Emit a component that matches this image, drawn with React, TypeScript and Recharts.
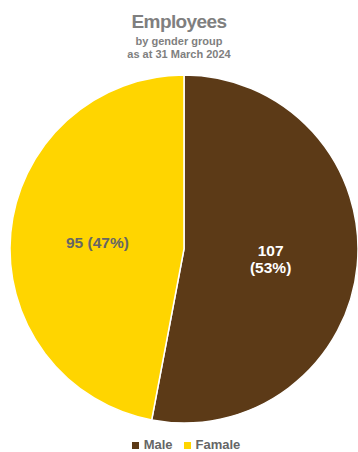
import React from "react";
import { PieChart, Pie, Cell, Legend } from "recharts";

const categories = ["Male", "Famale"];
const values = [107, 95];
const colors = ["#5C3A17", "#FFD500"];

const data = categories.map((name, i) => ({ name, value: values[i] }));
const total = values.reduce((a, b) => a + b, 0);
const RAD = Math.PI / 180;

const renderLabel = (props: any) => {
  const { cx, cy, midAngle, outerRadius, value, index } = props;
  const r = outerRadius * 0.5;
  const x = cx + r * Math.cos(-midAngle * RAD);
  const y = cy + r * Math.sin(-midAngle * RAD);
  const pct = Math.round((value / total) * 100);
  const fill = index === 0 ? "#FFFFFF" : "#666666";
  const style = { fontFamily: "'Liberation Sans', Arial, sans-serif", fontWeight: 700, fontSize: 15.5 };
  if (index === 0) {
    return (
      <text x={x} y={y} textAnchor="middle" fill={fill} style={style}>
        <tspan x={x} dy={-1}>{value}</tspan>
        <tspan x={x} dy={17}>({pct}%)</tspan>
      </text>
    );
  }
  return (
    <text x={x} y={y + 2} textAnchor="middle" dominantBaseline="central" fill={fill} style={style}>
      {value} ({pct}%)
    </text>
  );
};

const renderLegend = () => (
  <div style={{ display: "flex", justifyContent: "center", alignItems: "center", height: 14, lineHeight: "14px", paddingLeft: 14, fontFamily: "'Liberation Sans', Arial, sans-serif", fontWeight: 700, fontSize: 13, color: "#666666" }}>
    {categories.map((c, i) => (
      <span key={c} style={{ display: "inline-flex", alignItems: "center", marginRight: i === 0 ? 11 : 0 }}>
        <span style={{ display: "inline-block", width: 7, height: 7, background: colors[i], marginRight: 5 }} />
        {c}
      </span>
    ))}
  </div>
);

export default function App() {
  return (
    <div style={{ width: 358, height: 452, position: "relative", background: "#fff" }}>
      <style>{"body{margin:0}"}</style>
      <div style={{ position: "absolute", top: 11, left: 0, width: 358, textAlign: "center", fontFamily: "'Liberation Sans', Arial, sans-serif", fontWeight: 700, color: "#7F7F7F" }}>
        <div style={{ fontSize: 19, lineHeight: "22px", letterSpacing: -0.6 }}>Employees</div>
        <div style={{ fontSize: 11, lineHeight: "13px", marginTop: 2 }}>by gender group</div>
        <div style={{ fontSize: 11, lineHeight: "13px" }}>as at 31 March 2024</div>
      </div>
      <PieChart width={358} height={452} margin={{ top: 0, right: 0, bottom: 0, left: 0 }}>
        <Pie
          data={data}
          dataKey="value"
          nameKey="name"
          cx={184}
          cy={249}
          outerRadius={174}
          startAngle={90}
          endAngle={-270}
          stroke="#FFFFFF"
          strokeWidth={1.5}
          label={renderLabel}
          labelLine={false}
          isAnimationActive={false}
        >
          {data.map((d, i) => (
            <Cell key={d.name} fill={colors[i]} />
          ))}
        </Pie>
        <Legend content={renderLegend} verticalAlign="bottom" wrapperStyle={{ bottom: 0, left: 0, width: 358, height: 14 }} />
      </PieChart>
    </div>
  );
}
